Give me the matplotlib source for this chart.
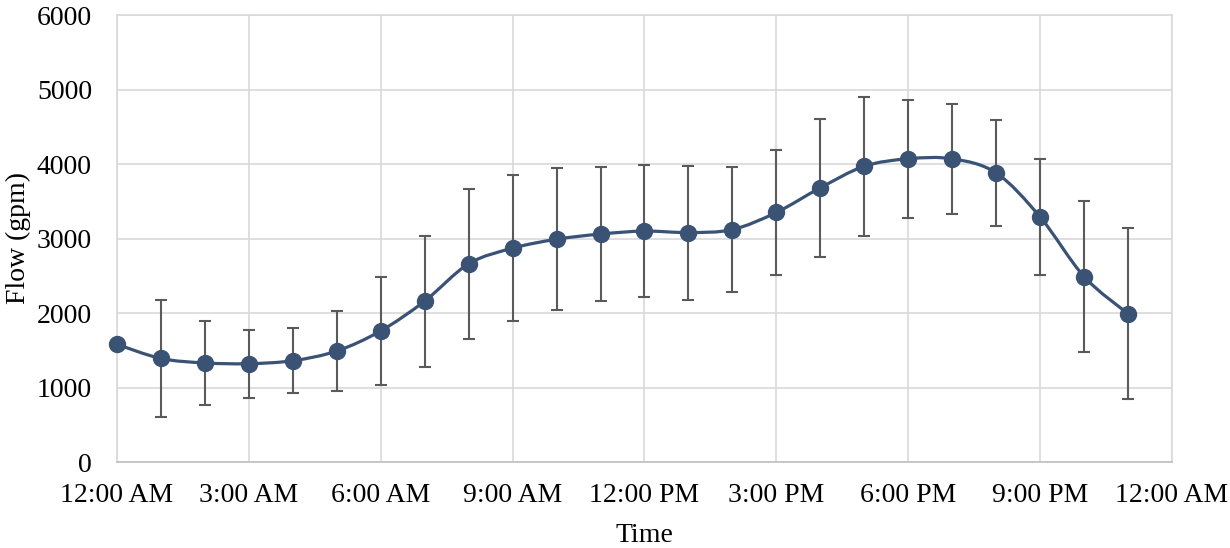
import numpy as np
import matplotlib.pyplot as plt
from matplotlib.path import Path
from matplotlib.patches import PathPatch

plt.rcParams['font.family'] = ['Liberation Serif', 'DejaVu Serif']

# hourly mean flow and its error (gpm)
hours = list(range(24))
flow = [1580, 1390, 1330, 1320, 1360, 1490, 1760, 2160, 2660, 2870, 2990, 3060,
        3100, 3080, 3120, 3350, 3680, 3970, 4070, 4070, 3880, 3290, 2490, 1990]
err = [0, 790, 560, 455, 435, 535, 725, 880, 1005, 980, 950, 900,
       890, 900, 835, 840, 925, 930, 790, 735, 710, 780, 1010, 1150]
tick_pos = [0, 3, 6, 9, 12, 15, 18, 21, 24]
tick_lab = ['12:00 AM', '3:00 AM', '6:00 AM', '9:00 AM', '12:00 PM',
            '3:00 PM', '6:00 PM', '9:00 PM', '12:00 AM']

line_col = '#3A5274'

fig = plt.figure(figsize=(12.3, 5.48), dpi=100)
ax = fig.add_axes([0.0951, 0.1569, 0.8577, 0.8157])

# smoothed line like excel (catmull-rom -> bezier)
x = np.array(hours, float)
y = np.array(flow, float)
verts = [(x[0], y[0])]
codes = [Path.MOVETO]
for i in range(len(x) - 1):
    p0 = (x[i - 1], y[i - 1]) if i > 0 else (x[i], y[i])
    p1 = (x[i], y[i])
    p2 = (x[i + 1], y[i + 1])
    p3 = (x[i + 2], y[i + 2]) if i + 2 < len(x) else (x[i + 1], y[i + 1])
    c1 = (p1[0] + (p2[0] - p0[0]) / 6, p1[1] + (p2[1] - p0[1]) / 6)
    c2 = (p2[0] - (p3[0] - p1[0]) / 6, p2[1] - (p3[1] - p1[1]) / 6)
    verts += [c1, c2, p2]
    codes += [Path.CURVE4] * 3
ax.add_patch(PathPatch(Path(verts, codes), fill=False, edgecolor=line_col,
                       lw=2.3, zorder=3))

ax.errorbar(hours, flow, yerr=err, fmt='none', ecolor='#5A5A5A', elinewidth=1.5,
            capsize=4.5, capthick=1.5, zorder=2)
ax.plot(hours, flow, 'o', color=line_col, ms=11.5, zorder=4, clip_on=False)

ax.set_xlim(0, 24)
ax.set_ylim(0, 6000)
ax.set_xticks(tick_pos)
ax.set_xticklabels(tick_lab)
ax.set_yticks(range(0, 6001, 1000))
ax.grid(True, color='#D9D9D9', lw=1.2, zorder=0)
ax.set_axisbelow(True)
for s in ['top', 'right', 'left']:
    ax.spines[s].set_color('#D9D9D9')
    ax.spines[s].set_linewidth(1.2)
ax.spines['bottom'].set_color('#BFBFBF')
ax.spines['bottom'].set_linewidth(1.2)
ax.tick_params(length=0, labelsize=20, pad=15)
ax.tick_params(axis='y', pad=18)

# axis titles placed by hand
fig.text(644 / 1230, 1 - 535 / 548, 'Time', fontsize=20, ha='center', va='center')
fig.text(18 / 1230, 1 - 238 / 548, 'Flow (gpm)', fontsize=20, ha='center',
         va='center', rotation=90)

fig.savefig('out.png', dpi=100)
